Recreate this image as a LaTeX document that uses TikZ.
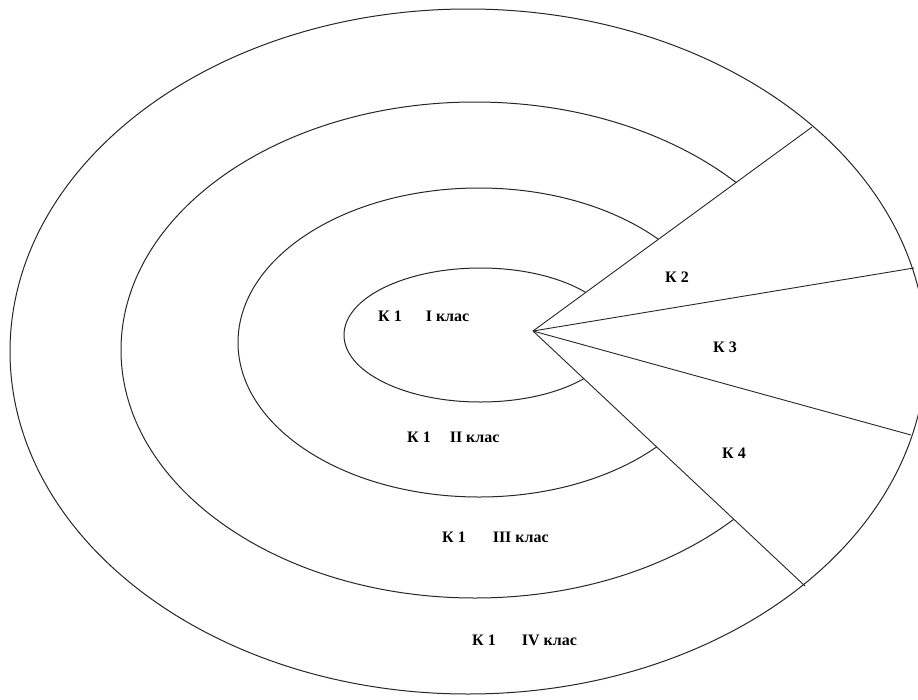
\documentclass[tikz,border=0pt]{standalone}
\usepackage{fontspec}
\setmainfont{Liberation Serif}
\begin{document}
\begin{tikzpicture}[x=1pt,y=-1pt,
  every node/.style={inner sep=0pt, font=\bfseries\fontsize{16}{19}\selectfont},
  ring/.style={draw=black!85, line width=1pt},
  divider/.style={draw=black!85, line width=0.9pt},
  lbl/.style={anchor=base west},
  klbl/.style={anchor=center}]
\useasboundingbox (0,0) rectangle (918,699);
\clip (0,0) rectangle (918,699);
% apex and sector end points
\coordinate (O) at (533,331);
\coordinate (A) at (812,127);
\coordinate (B) at (914,268);
\coordinate (C) at (911,435);
\coordinate (D) at (805,586);
% outer ellipse (full)
\draw[ring] (468,351.5) ellipse [x radius=458, y radius=342.5];
% inner rings, cut away inside the sector
\begin{scope}
  \clip (O) -- (A) -- (812,-20) -- (-20,-20) -- (-20,720) -- (805,720) -- (D) -- cycle;
  \draw[ring] (475,350) ellipse [x radius=354, y radius=248];
  \draw[ring] (479,342.5) ellipse [x radius=241, y radius=154.5];
  \draw[ring] (480.4,335) ellipse [x radius=136.4, y radius=67];
\end{scope}
% sector dividers
\draw[divider] (O) -- (A);
\draw[divider] (O) -- (B);
\draw[divider] (O) -- (C);
\draw[divider] (O) -- (D);
% labels
\node[lbl] (l1) at (378,321.5) {К 1\hspace{24pt}I клас};
\node[lbl] (l2) at (407,442.5) {К 1\hspace{19pt}II клас};
\node[lbl] (l3) at (442,542.5) {К 1\hspace{27pt}III клас};
\node[lbl] (l4) at (472,645.5) {К 1\hspace{26pt}IV клас};
\node[klbl] (k2) at (677,277) {К 2};
\node[klbl] (k3) at (725,347) {К 3};
\node[klbl] (k4) at (734,453) {К 4};
\end{tikzpicture}
\end{document}
